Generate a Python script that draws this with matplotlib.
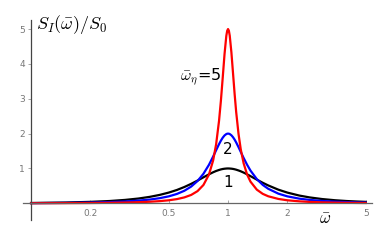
import matplotlib
matplotlib.use('Agg')
import matplotlib.pyplot as plt

plt.rcParams['mathtext.fontset'] = 'cm'

# frequency samples (omega bar) and the spectra
omega = [0.1, 0.15, 0.2, 0.25, 0.3, 0.35, 0.4, 0.45, 0.5, 0.55, 0.6, 0.65,
         0.7, 0.75, 0.8, 0.84, 0.87, 0.9, 0.92, 0.94, 0.96, 0.98, 0.99, 1.0,
         1.01, 1.02, 1.04, 1.06, 1.08, 1.1, 1.13, 1.16, 1.2, 1.25, 1.3, 1.4,
         1.5, 1.6, 1.8, 2.0, 2.3, 2.6, 3.0, 3.5, 4.0, 4.5, 5.0]

s_eta1 = [0.010, 0.023, 0.042, 0.066, 0.098, 0.137, 0.185, 0.242, 0.308, 0.383,
          0.468, 0.559, 0.653, 0.746, 0.832, 0.891, 0.928, 0.957, 0.973, 0.985,
          0.993, 0.998, 1.000, 1.000, 1.000, 0.998, 0.994, 0.987, 0.977, 0.965,
          0.943, 0.919, 0.882, 0.832, 0.780, 0.680, 0.590, 0.513, 0.392, 0.308,
          0.223, 0.169, 0.123, 0.088, 0.066, 0.052, 0.042]

s_eta2 = [0.005, 0.012, 0.022, 0.035, 0.053, 0.077, 0.107, 0.148, 0.200, 0.269,
          0.360, 0.481, 0.640, 0.847, 1.105, 1.341, 1.524, 1.697, 1.799, 1.884,
          1.948, 1.987, 1.997, 2.000, 1.997, 1.988, 1.952, 1.897, 1.827, 1.746,
          1.613, 1.476, 1.301, 1.105, 0.940, 0.694, 0.529, 0.417, 0.278, 0.200,
          0.134, 0.097, 0.068, 0.047, 0.035, 0.027, 0.022]

s_eta5 = [0.002, 0.005, 0.009, 0.014, 0.022, 0.032, 0.045, 0.063, 0.087, 0.121,
          0.170, 0.241, 0.350, 0.526, 0.825, 1.229, 1.694, 2.365, 2.946, 3.614,
          4.286, 4.804, 4.950, 5.000, 4.951, 4.811, 4.333, 3.732, 3.138, 2.616,
          1.999, 1.553, 1.147, 0.825, 0.622, 0.392, 0.272, 0.202, 0.126, 0.087,
          0.057, 0.040, 0.028, 0.019, 0.014, 0.011, 0.009]

x_ticks = [0.2, 0.5, 1, 2, 5]
x_tick_labels = ['0.2', '0.5', '1', '2', '5']
y_ticks = [1, 2, 3, 4, 5]

fig = plt.figure(figsize=(3.81, 2.40), dpi=100)
ax = fig.add_axes([23 / 381, 19.6 / 240, (372.3 - 23) / 381, 200.4 / 240])

ax.plot(omega, s_eta1, color='black', lw=1.6)
ax.plot(omega, s_eta2, color='#0000ff', lw=1.6)
ax.plot(omega, s_eta5, color='#ff0000', lw=1.6)

ax.set_xscale('log')
ax.set_xlim(0.091, 5.4)
ax.set_ylim(-0.49, 5.26)

# axes crossing like the original
for side in ['top', 'right']:
    ax.spines[side].set_visible(False)
ax.spines['left'].set_position(('data', 0.1))
ax.spines['bottom'].set_position(('data', 0))
ax.spines['left'].set_color('#444444')
ax.spines['bottom'].set_color('#666666')
ax.spines['left'].set_linewidth(0.9)
ax.spines['bottom'].set_linewidth(0.9)

ax.set_xticks(x_ticks)
ax.set_xticklabels(x_tick_labels)
ax.minorticks_off()
ax.set_yticks(y_ticks)
ax.tick_params(axis='x', direction='in', length=2.5, width=0.6, color='#999999',
               labelsize=6.5, labelcolor='#777777', pad=4)
ax.tick_params(axis='y', direction='out', length=2.5, width=0.6, color='#999999',
               labelsize=6.5, labelcolor='#777777', pad=2)

fig.text(36 / 381, 1 - 25 / 240, r'$S_I(\bar{\omega})/S_0$', fontsize=13,
         va='center', ha='left')
fig.text(325 / 381, 1 - 219 / 240, r'$\bar{\omega}$', fontsize=12,
         ha='center', va='center')

ax.text(0.925, 3.6, r'$\bar{\omega}_\eta$=5', fontsize=11.5, ha='right', va='center')
ax.text(1.0, 1.55, '2', fontsize=11, ha='center', va='center')
ax.text(1.0, 0.6, '1', fontsize=11, ha='center', va='center')

fig.savefig('out.png', dpi=100)
